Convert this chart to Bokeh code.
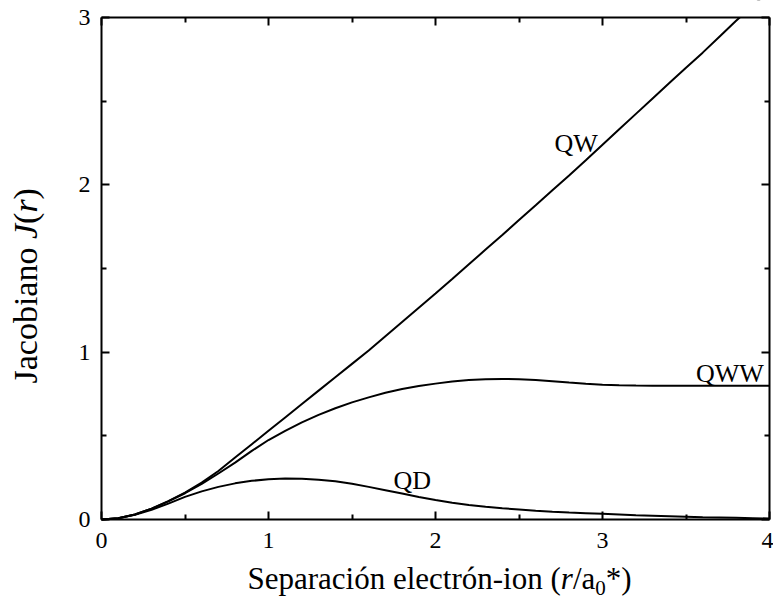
from bokeh.plotting import figure
from bokeh.models import Label, LinearAxis, Range1d, FixedTicker, BoxAnnotation
from bokeh.embed import file_html
from bokeh.resources import INLINE

# ---- data ----
r = [0.0, 0.1, 0.2, 0.3, 0.4, 0.5, 0.6, 0.7, 0.8, 0.9,
     1.0, 1.1, 1.2, 1.3, 1.4, 1.5, 1.6, 1.7, 1.8, 1.9,
     2.0, 2.1, 2.2, 2.3, 2.4, 2.5, 2.6, 2.7, 2.8, 2.9,
     3.0, 3.1, 3.2, 3.3, 3.4, 3.5, 3.6, 3.7, 3.8, 3.9, 4.0]

qw = [0.0, 0.008, 0.03, 0.065, 0.11, 0.16, 0.22, 0.29, 0.37, 0.45,
      0.53, 0.61, 0.69, 0.77, 0.85, 0.93, 1.01, 1.095, 1.18, 1.265,
      1.35, 1.437, 1.525, 1.613, 1.70, 1.79, 1.878, 1.967, 2.056, 2.147,
      2.24, 2.332, 2.424, 2.516, 2.608, 2.70, 2.79, 2.885, 2.98, 3.07, 3.16]

qww = [0.0, 0.008, 0.03, 0.065, 0.108, 0.157, 0.213, 0.275, 0.34, 0.41,
       0.475, 0.53, 0.58, 0.625, 0.665, 0.70, 0.73, 0.757, 0.78, 0.798,
       0.812, 0.824, 0.833, 0.838, 0.84, 0.838, 0.833, 0.826, 0.818, 0.811,
       0.806, 0.803, 0.801, 0.80, 0.80, 0.80, 0.80, 0.80, 0.80, 0.80, 0.80]

qd = [0.0, 0.008, 0.028, 0.058, 0.095, 0.135, 0.168, 0.195, 0.216, 0.231,
      0.241, 0.245, 0.244, 0.238, 0.228, 0.213, 0.195, 0.175, 0.155, 0.135,
      0.116, 0.1, 0.087, 0.076, 0.067, 0.06, 0.053, 0.047, 0.042, 0.038,
      0.034, 0.03, 0.026, 0.023, 0.02, 0.017, 0.014, 0.012, 0.01, 0.008, 0.006]

x_ticks = [0, 1, 2, 3, 4]
x_minor = [0.5, 1.5, 2.5, 3.5]
y_ticks = [0, 1, 2, 3]
y_minor = [0.5, 1.5, 2.5]
x_lim = (0, 4)
y_lim = (0, 3)

curve_names = ["QW", "QWW", "QD"]

FONT = "Liberation Serif"
W, H = 773, 601
# plot box in canvas pixels
BL, BR, BT, BB = 101, 769, 17, 519
sx = (BR - BL) / (x_lim[1] - x_lim[0])
sy = (BB - BT) / (y_lim[1] - y_lim[0])


def dx(px):
    return x_lim[0] + (px - BL) / sx


def dy(py):
    return y_lim[0] + (BB - py) / sy


p = figure(width=W, height=H, output_backend="svg", toolbar_location=None,
           x_range=Range1d(dx(0), dx(W)), y_range=Range1d(dy(H), dy(0)),
           x_axis_location=None, y_axis_location=None,
           min_border=0, background_fill_color="white",
           border_fill_color="white")
p.grid.visible = False
p.outline_line_color = None


def make_axis(loc, ticks, minor, bounds, side, show_labels):
    ax = LinearAxis(ticker=FixedTicker(ticks=ticks, minor_ticks=minor),
                    fixed_location=loc, bounds=bounds, level="overlay")
    ax.axis_line_color = "black"
    ax.axis_line_width = 2
    ax.major_tick_in = 8
    ax.major_tick_out = 0
    ax.minor_tick_in = 5
    ax.minor_tick_out = 0
    ax.major_tick_line_width = 2
    ax.minor_tick_line_width = 2
    ax.major_tick_line_color = "black"
    ax.minor_tick_line_color = "black"
    ax.major_label_text_font = FONT
    ax.major_label_text_color = "black"
    if show_labels:
        ax.major_label_text_font_size = "24px"
        ax.major_label_standoff = 13 if side == "below" else 11
    else:
        ax.major_label_overrides = {t: "" for t in ticks}
        ax.major_label_text_font_size = "1px"
        ax.major_label_text_alpha = 0
        ax.major_label_standoff = 0
    p.add_layout(ax, side)


for ys in (qw, qww, qd):
    p.line(r, ys, line_color="black", line_width=2)

# white mask above the plot box so curves stop at the top frame line
p.add_layout(BoxAnnotation(bottom=y_lim[1], top=dy(-200), left=dx(-200),
                           right=dx(W + 200), fill_color="white",
                           fill_alpha=1.0, line_color=None,
                           level="annotation"))

make_axis(y_lim[0], x_ticks, x_minor, x_lim, "below", True)
make_axis(y_lim[1], x_ticks, x_minor, x_lim, "above", False)
make_axis(x_lim[0], y_ticks, y_minor, y_lim, "left", True)
make_axis(x_lim[1], y_ticks, y_minor, y_lim, "right", False)

# curve labels (data units)
lab_pos = {"QW": (2.713, 2.247), "QWW": (3.56, 0.872), "QD": (1.749, 0.233)}
for name in curve_names:
    lx, ly = lab_pos[name]
    p.add_layout(Label(x=lx, y=ly, text=name, text_font=FONT,
                       text_font_size="26px", text_color="black",
                       text_align="left", text_baseline="alphabetic"))

# x-axis title (mixed styles)
fs = 31
x_parts = [
    ("Separación electrón-ion (", "normal", fs, 0),
    ("r", "italic", fs, 0),
    ("/a", "normal", fs, 0),
    ("0", "normal", 21, 9),
    ("*)", "normal", fs, 0),
]
x_adv = [10.108 * fs, 0.389 * fs, 0.722 * fs, 0.5 * 21, 0.833 * fs]
px = 247.0
base = 578
for (t, st, sz, drop), adv in zip(x_parts, x_adv):
    p.add_layout(Label(x=dx(px), y=dy(base + drop), text=t, text_font=FONT,
                       text_font_style=st, text_font_size=f"{sz}px",
                       text_color="black", text_align="left",
                       text_baseline="alphabetic"))
    px += adv

# y-axis title (rotated, mixed styles)
fy = 34
y_parts = [("Jacobiano ", "normal"), ("J", "italic"), ("(", "normal"),
           ("r", "italic"), (")", "normal")]
y_adv = [4.249, 0.444, 0.333, 0.389, 0.333]
py = 383
for (t, st), adv in zip(y_parts, y_adv):
    p.add_layout(Label(x=dx(25), y=dy(py), text=t, text_font=FONT,
                       text_font_style=st, text_font_size=f"{fy}px",
                       text_color="black", angle=1.5707963,
                       text_align="left", text_baseline="alphabetic"))
    py -= adv * fy

open("out.html", "w").write(file_html(p, INLINE))
